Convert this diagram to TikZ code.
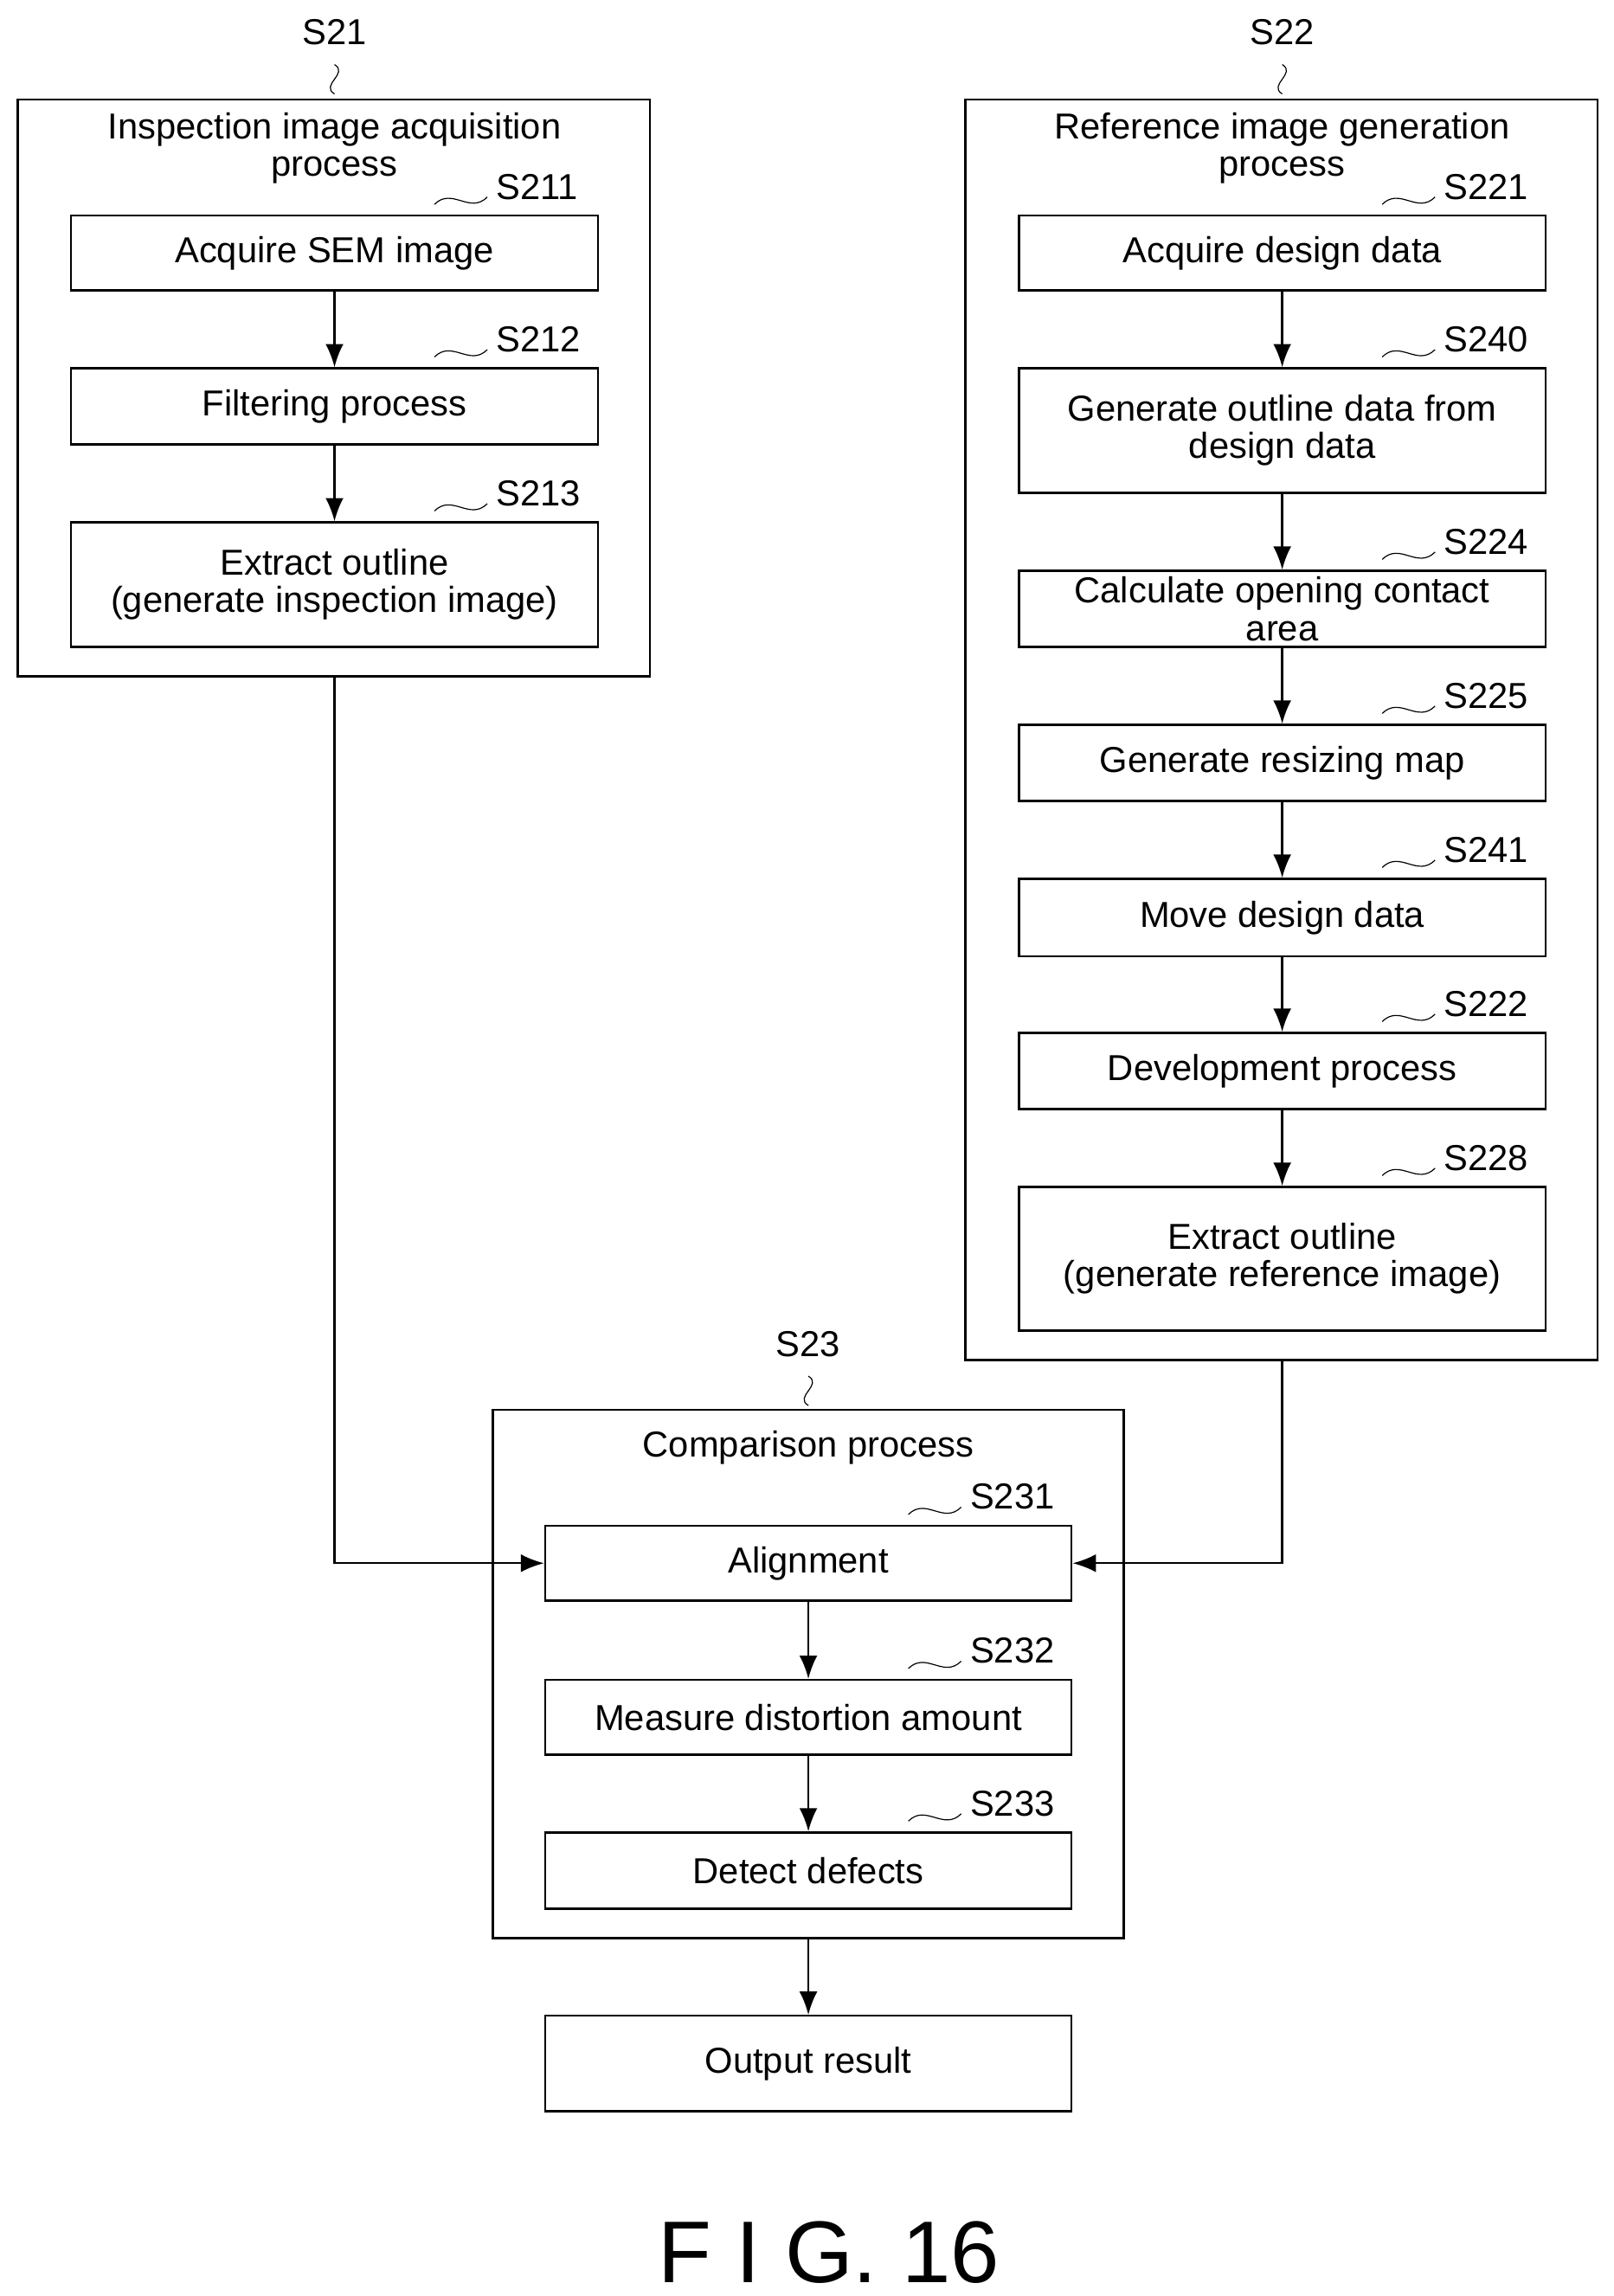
\documentclass[tikz,border=0pt]{standalone}
\usepackage{fontspec}
\setmainfont{Liberation Sans}
\usetikzlibrary{calc,arrows.meta}
\tikzset{
  box/.style={draw,thick,minimum width=7.18cm,minimum height=#1*0.02cm,inner sep=0pt,align=center,font=\fontsize{14}{14.5}\selectfont},
  flow/.style={-{Latex[length=9pt,width=7pt]},thick},
}
% label with a small wave, right above a box
\newcommand{\stepno}[2]{%
  \draw ($(#1.north east)+(-112,-7)$) .. controls +(12,-12) and +(-12,12) .. ++(36,-5);
  \node[font=\fontsize{14}{14}\selectfont,anchor=west] at ($(#1.north east)+(-76,-19)$) {#2};}
\newcommand{\groupno}[2]{%
  \node[font=\fontsize{14}{14}\selectfont] at #1 {#2};
  \draw ($#1+(0,22)$) .. controls +(10,6) and +(-10,-6) .. ++(0,20);}
\begin{document}
\begin{tikzpicture}[x=0.02cm,y=-0.02cm]
    \useasboundingbox (0,0) rectangle (1100,1565);

    % groups
    \draw[thick] (12,68) rectangle (443,461);
    \draw[thick] (658,68) rectangle (1089,927);
    \draw[thick] (336,961) rectangle (766,1321);
    \node[align=center,font=\fontsize{14}{14.5}\selectfont] (t21) at (228,101) {Inspection image acquisition\\process};
    \node[align=center,font=\fontsize{14}{14.5}\selectfont] (t22) at (874,101) {Reference image generation\\process};
    \node[font=\fontsize{14}{14.5}\selectfont] (t23) at (551,987) {Comparison process};
    \groupno{(228,22)}{S21}
    \groupno{(874,22)}{S22}
    \groupno{(551,916)}{S23}

    % left column
    \node[box=51] (s211) at (228,172.5) {Acquire SEM image};
    \node[box=52] (s212) at (228,277) {Filtering process};
    \node[box=85] (s213) at (228,398.5) {Extract outline\\(generate inspection image)};

    % right column
    \node[box=51] (s221) at (874,172.5) {Acquire design data};
    \node[box=85] (s240) at (874,293.5) {Generate outline data from\\design data};
    \node[box=52] (s224) at (874,415) {Calculate opening contact\\area};
    \node[box=52] (s225) at (874,520) {Generate resizing map};
    \node[box=53] (s241) at (874,625.5) {Move design data};
    \node[box=52] (s222) at (874,730) {Development process};
    \node[box=98] (s228) at (874,858) {Extract outline\\(generate reference image)};

    % comparison
    \node[box=51] (s231) at (551,1065.5) {Alignment};
    \node[box=51] (s232) at (551,1170.5) {Measure distortion amount};
    \node[box=52] (s233) at (551,1275) {Detect defects};
    \node[box=65] (out) at (551,1406.5) {Output result};

    \coordinate (c21) at (228,461);
    \coordinate (c22) at (874,927);
    \coordinate (c23) at (551,1321);

    \stepno{s211}{S211}
    \stepno{s212}{S212}
    \stepno{s213}{S213}
    \stepno{s221}{S221}
    \stepno{s240}{S240}
    \stepno{s224}{S224}
    \stepno{s225}{S225}
    \stepno{s241}{S241}
    \stepno{s222}{S222}
    \stepno{s228}{S228}
    \stepno{s231}{S231}
    \stepno{s232}{S232}
    \stepno{s233}{S233}

    \draw[flow] (s211) -- (s212);
    \draw[flow] (s212) -- (s213);
    \draw[flow] (s221) -- (s240);
    \draw[flow] (s240) -- (s224);
    \draw[flow] (s224) -- (s225);
    \draw[flow] (s225) -- (s241);
    \draw[flow] (s241) -- (s222);
    \draw[flow] (s222) -- (s228);
    \draw[flow] (c21) |- (s231);
    \draw[flow] (c22) |- (s231);
    \draw[flow] (s231) -- (s232);
    \draw[flow] (s232) -- (s233);
    \draw[flow] (c23) -- (out);

    \node[font=\fontsize{34}{34}\selectfont] (fig) at (565,1535) {F I G. 16};
  \end{tikzpicture}
\end{document}
